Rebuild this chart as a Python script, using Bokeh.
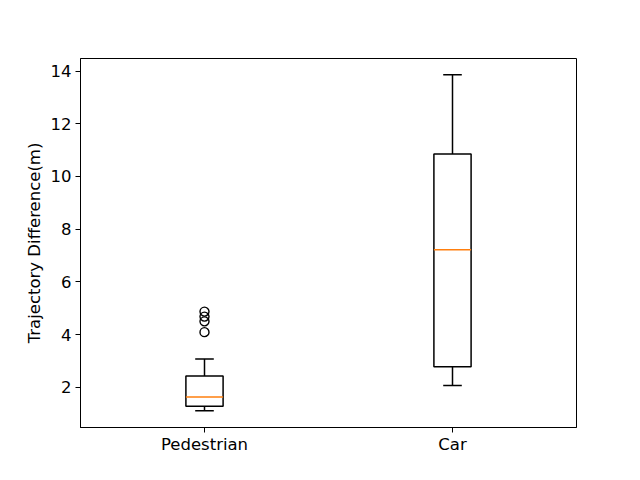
from bokeh.plotting import figure
from bokeh.models import FactorRange, Range1d, FixedTicker, ColumnDataSource
from bokeh.transform import dodge
from bokeh.embed import file_html
from bokeh.resources import INLINE

categories = ["Pedestrian", "Car"]
whisker_low = [1.11, 2.06]
q1 = [1.28, 2.78]
median = [1.63, 7.22]
q3 = [2.43, 10.85]
whisker_high = [3.07, 13.86]
outlier_cat = ["Pedestrian", "Pedestrian", "Pedestrian", "Pedestrian"]
outlier_val = [4.09, 4.50, 4.68, 4.87]
y_ticks = [2, 4, 6, 8, 10, 12, 14]

BOX_W = 0.15
FONT = "DejaVu Sans"

src = ColumnDataSource(dict(cat=categories, lo=whisker_low, q1=q1, med=median,
                            q3=q3, hi=whisker_high))
out_src = ColumnDataSource(dict(cat=outlier_cat, val=outlier_val))

p = figure(x_range=FactorRange(*categories, range_padding=0),
           y_range=Range1d(0.47, 14.48),
           frame_width=496, frame_height=369,
           min_border_left=80, min_border_right=56,
           min_border_top=58, min_border_bottom=45,
           output_backend="svg", toolbar_location=None)

lw = 1.5
# boxes
p.vbar(x="cat", bottom="q1", top="q3", width=BOX_W, source=src,
       fill_color=None, line_color="black", line_width=lw)
# whiskers
p.segment(x0="cat", y0="q3", x1="cat", y1="hi", source=src, line_color="black", line_width=lw)
p.segment(x0="cat", y0="lo", x1="cat", y1="q1", source=src, line_color="black", line_width=lw)
# caps
left_cap = dodge("cat", -BOX_W / 4, range=p.x_range)
right_cap = dodge("cat", BOX_W / 4, range=p.x_range)
p.segment(x0=left_cap, y0="hi", x1=right_cap, y1="hi", source=src, line_color="black", line_width=lw)
p.segment(x0=left_cap, y0="lo", x1=right_cap, y1="lo", source=src, line_color="black", line_width=lw)
# medians
p.segment(x0=dodge("cat", -BOX_W / 2, range=p.x_range), y0="med",
          x1=dodge("cat", BOX_W / 2, range=p.x_range), y1="med",
          source=src, line_color="#ff7f0e", line_width=lw)
# outliers
p.scatter(x="cat", y="val", source=out_src, marker="circle", size=9,
          fill_color=None, line_color="black", line_width=1.4)

p.xgrid.visible = False
p.ygrid.visible = False
p.outline_line_color = "black"
p.outline_line_width = 1
p.outline_line_alpha = 1

p.yaxis.ticker = FixedTicker(ticks=y_ticks)
p.yaxis.axis_label = "Trajectory Difference(m)"
for ax in (p.xaxis[0], p.yaxis[0]):
    ax.major_label_text_font = FONT
    ax.major_label_text_font_size = "16.5px"
    ax.major_label_text_color = "black"
    ax.axis_label_text_font = FONT
    ax.axis_label_text_font_size = "16.5px"
    ax.axis_label_text_font_style = "normal"
    ax.axis_label_text_color = "black"
    ax.axis_line_color = "black"
    ax.major_tick_line_color = "black"
    ax.major_tick_in = 0
    ax.major_tick_out = 5
    ax.minor_tick_line_color = None
    ax.major_label_standoff = 4
p.xaxis.major_label_standoff = 2
p.yaxis.axis_label_standoff = 4

open("out.html", "w").write(file_html(p, INLINE))
